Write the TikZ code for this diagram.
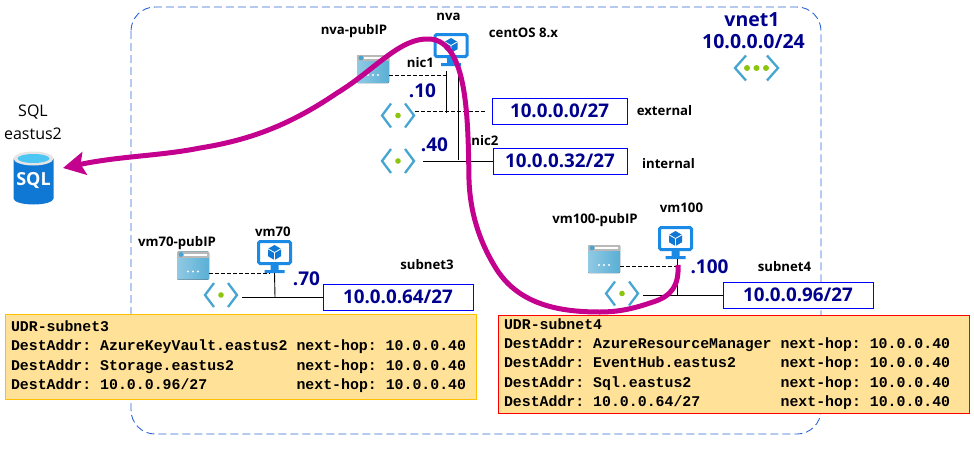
\documentclass[tikz,border=0pt]{standalone}
\usepackage{fontspec}
\setmainfont{Open Sans}
\setmonofont{Liberation Mono}
\usepackage{xcolor}
\usetikzlibrary{arrows.meta,positioning,calc}
\definecolor{azureblue}{HTML}{1B8AE4}
\definecolor{cubeblue}{HTML}{0F78D4}
\definecolor{snetblue}{HTML}{47A6D1}
\definecolor{snetgreen}{HTML}{8CC510}
\definecolor{addrblue}{HTML}{00008F}
\definecolor{flowpink}{HTML}{C4008F}
\definecolor{udrfill}{HTML}{FFE297}
\definecolor{vnetblue}{HTML}{2E66D6}

\begin{document}
\begin{tikzpicture}[
    x=1pt, y=-1pt,
    lbl/.style={inner sep=0pt, font=\fontsize{13.2}{15}\selectfont\bfseries},
    num/.style={inner sep=0pt, text=addrblue, font=\fontsize{19}{22}\selectfont\bfseries},
    bignum/.style={num, font=\fontsize{19.5}{22}\selectfont\bfseries},
    addrbox/.style={rectangle, draw=blue, fill=white, line width=1pt, inner sep=0pt, minimum height=26pt, text=addrblue, font=\fontsize{18.8}{20}\selectfont\bfseries},
    udrbox/.style={rectangle, fill=udrfill, line width=1pt, align=left, inner ysep=0pt, inner xsep=6pt, text width=459pt, font=\fontsize{14.87}{19.3}\selectfont\ttfamily\bfseries, execute at begin node={\spaceskip=0pt \xspaceskip=0pt }},
    iconbox/.style={rectangle, inner sep=0pt, minimum width=34pt, minimum height=28pt},
    wire/.style={line width=0.9pt, draw=black},
    dwire/.style={wire, dash pattern=on 3.6pt off 2.4pt},
    flow/.style={-{Stealth[length=22pt,width=23pt,inset=4pt]}, line width=5pt, draw=flowpink},
    vmglyph/.pic={
        \draw [azureblue, line width=3pt, rounded corners=1.5pt, fill=white] (-16,-14.5) rectangle (16,7.5);
        \fill [azureblue] (-4,9) rectangle (4,14) (-10,14) rectangle (10,17);
        \fill [cubeblue] (0,-11) -- (6.5,-7.2) -- (6.5,0.2) -- (0,4) -- (-6.5,0.2) -- (-6.5,-7.2) -- cycle;
        \draw [white, line width=0.8pt] (-6.5,-7.2) -- (0,-3.5) -- (6.5,-7.2) (0,-3.5) -- (0,4);
    },
    ipglyph/.pic={
        \fill [left color=snetblue!60, right color=snetblue!90, rounded corners=1pt] (-16,-14) rectangle (16,14);
        \fill [gray!55] (-16,-14) rectangle (16,-8);
        \fill [white] (-9,-12) rectangle (14,-10);
        \fill [snetblue] (-12,-11) circle (2.4pt);
        \foreach \dx in {-5,0,5} \fill [white] (\dx,6) circle (1.2pt);
    },
    snetglyph/.pic={
        \draw [snetblue, line width=2.3pt] (-7,-12) -- (-16,0) -- (-7,12) (7,-12) -- (16,0) -- (7,12);
        \fill [snetgreen] (0,0) circle (2.8pt);
    },
    sqlglyph/.pic={
        \fill [cubeblue] (-20,-19) -- (-20,21) arc [start angle=180, end angle=360, x radius=20pt, y radius=6pt] -- (20,-19) -- cycle;
        \fill [white!80!gray] (0,-19) ellipse [x radius=20pt, y radius=7pt];
        \fill [cyan!70!white] (0,-19) ellipse [x radius=16pt, y radius=4.5pt];
        \node [inner sep=0pt, text=white, font=\fontsize{18}{20}\selectfont\bfseries] at (0,3) {SQL};
    }
]
    \useasboundingbox (0,0) rectangle (974,450);

    % vnet
    \draw [draw=vnetblue, line width=0.9pt, dash pattern=on 8pt off 4pt, rounded corners=24pt] (131,7) rectangle (821,434);

    \node [iconbox] (vnet) at (756.5,68) {};
    \draw [snetblue, line width=2.3pt] (746,55.5) -- (735,68) -- (746,80.5) (767,55.5) -- (778,68) -- (767,80.5);
    \foreach \dx in {-9.5,0,9.5} \fill [snetgreen] (756.5+\dx,68) circle (3pt);
    \node [bignum] (vnetname) at (752,20) {vnet1};
    \node [bignum] (vnetaddr) at (753.5,42) {10.0.0.0/24};

    % icons
    \node [iconbox, minimum height=33pt] (nva) at (451,49) {};
    \node [iconbox, minimum height=33pt] (vm70) at (274.5,256) {};
    \node [iconbox, minimum height=33pt] (vm100) at (675.5,242) {};
    \node [iconbox, minimum width=32pt] (nvaip) at (373,69) {};
    \node [iconbox, minimum width=32pt] (vm70ip) at (193,265.5) {};
    \node [iconbox, minimum width=32pt] (vm100ip) at (604,259) {};
    \node [iconbox] (nic1) at (398,115.5) {};
    \node [iconbox] (nic2) at (398,161) {};
    \node [iconbox] (nic70) at (221,295) {};
    \node [iconbox] (nic100) at (622,293.5) {};
    \node [iconbox, minimum width=41pt, minimum height=53pt] (sql) at (33.5,177.5) {};
    \foreach \n in {nva,vm70,vm100} \pic at (\n) {vmglyph};
    \foreach \n in {nvaip,vm70ip,vm100ip} \pic at (\n) {ipglyph};
    \foreach \n in {nic1,nic2,nic70,nic100} \pic at (\n) {snetglyph};
    \pic at (sql) {sqlglyph};

    % subnet boxes
    \node [addrbox, minimum width=135pt] (sub1) at (559.5,111) {10.0.0.0/27};
    \node [addrbox, minimum width=134pt] (sub2) at (560,161) {10.0.0.32/27};
    \node [addrbox, minimum width=150pt] (sub3) at (398,297) {10.0.0.64/27};
    \node [addrbox, minimum width=150pt] (sub4) at (798,295) {10.0.0.96/27};

    % labels
    \node [lbl] (nvaname) at (448.5,17) {nva};
    \node [lbl] (nvaos) at (523.5,33) {centOS 8.x};
    \node [lbl] (nvaiplbl) at (354,31) {nva-pubIP};
    \node [lbl] (nic1lbl) at (420.5,63) {nic1};
    \node [lbl] (nic2lbl) at (485,141) {nic2};
    \node [lbl] (extlbl) at (664.5,111) {external};
    \node [lbl] (intlbl) at (668.5,164) {internal};
    \node [lbl] (vm70lbl) at (273,232) {vm70};
    \node [lbl] (vm70iplbl) at (177,243) {vm70-pubIP};
    \node [lbl] (sub3lbl) at (427,265) {subnet3};
    \node [lbl] (vm100lbl) at (681.5,208) {vm100};
    \node [lbl] (vm100iplbl) at (595,220) {vm100-pubIP};
    \node [lbl] (sub4lbl) at (784.5,267) {subnet4};
    \node [num] (ip10) at (422.5,91) {.10};
    \node [num] (ip40) at (434.5,145) {.40};
    \node [num] (ip70) at (306.5,279) {.70};
    \node [num] (ip100) at (709.5,267) {.100};
    \node [inner sep=0pt, align=center, font=\fontsize{16}{23}\selectfont] (sqllbl) at (33,122.5) {SQL\\eastus2};

    % connectors
    \coordinate (nic1top) at (446,71);
    \coordinate (nic1end) at (446,113);
    \coordinate (nic2top) at (458,71);
    \coordinate (nic2end) at (458,159.5);
    \coordinate (nvaipend) at (446,75.5);
    \coordinate (vm70join) at (275,297);
    \coordinate (vm70dash) at (270,273);
    \coordinate (vm100join) at (677,295);
    \coordinate (vm100dash) at (677,266);

    \draw [wire] (nic1top) -- (nic1end);
    \draw [wire] (nic2top) -- (nic2end);
    \draw [dwire] (nvaip.east |- nvaipend) -- (nvaipend);
    \draw [dwire, shorten >=5pt] (nic1.east |- sub1.west) -- (sub1.west);
    \draw [wire, shorten <=8pt] (nic2.east |- sub2.west) -- (sub2.west);
    \draw [wire] (vm70.south |- vm70dash) -- (vm70join);
    \draw [dwire] (vm70ip.east |- vm70dash) -- (vm70dash);
    \draw [wire, shorten <=4pt] (nic70.east |- sub3.west) -- (sub3.west);
    \draw [wire] (vm100join |- vm100.south) -- (vm100join);
    \draw [dwire] (vm100ip.east |- vm100dash) -- (vm100dash);
    \draw [wire, shorten <=4pt] (nic100.east |- sub4.west) -- (sub4.west);

    % traffic path
    \coordinate (flowstart) at (678,265);
    \coordinate (sqlin) at (63,168);
    \draw [flow] (flowstart) .. controls (679,285) and (672,296) .. (653,302)
        .. controls (630,310) and (615,312) .. (600,312)
        .. controls (560,312) and (520,305) .. (497,270)
        .. controls (478,240) and (470,210) .. (469,180)
        .. controls (468,120) and (468,42) .. (430,39)
        .. controls (400,37) and (375,70) .. (337,93)
        .. controls (290,125) and (250,140) .. (200,148)
        .. controls (160,156) and (120,156) .. (sqlin);

    % route tables
    \node [udrbox, draw={rgb,255:red,255;green,192;blue,0}, minimum height=85pt] (udr3) at (240.5,356.5) {UDR-subnet3\\
DestAddr:~AzureKeyVault.eastus2~next-hop:~10.0.0.40\\
DestAddr:~Storage.eastus2~~~~~~~next-hop:~10.0.0.40\\
DestAddr:~10.0.0.96/27~~~~~~~~~~next-hop:~10.0.0.40};
    \node [udrbox, draw=red, minimum height=98pt] (udr4) at (733.5,364) {UDR-subnet4\\
DestAddr:~AzureResourceManager~next-hop:~10.0.0.40\\
DestAddr:~EventHub.eastus2~~~~~next-hop:~10.0.0.40\\
DestAddr:~Sql.eastus2~~~~~~~~~~next-hop:~10.0.0.40\\
DestAddr:~10.0.0.64/27~~~~~~~~~next-hop:~10.0.0.40};
\end{tikzpicture}
\end{document}
